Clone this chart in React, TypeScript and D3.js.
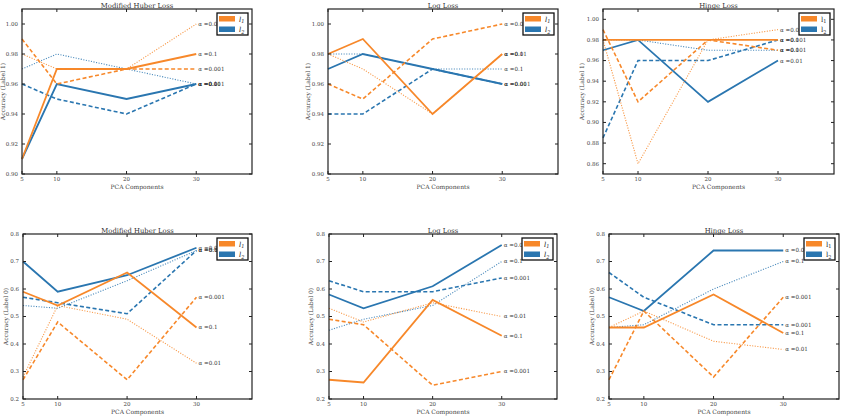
import { useRef, useEffect } from 'react';
import * as d3 from 'd3';

const WIDTH = 865;
const HEIGHT = 420;

// x positions shared by every series
const PCA_COMPONENTS = [5, 10, 20, 30];
const X_TICKS = [5, 10, 20, 30];

// series order used by every values table below
const PENALTIES = ['l1', 'l1', 'l1', 'l2', 'l2', 'l2'];
const ALPHAS = ['0.1', '0.01', '0.001', '0.1', '0.01', '0.001'];

// accuracy on label 1
const HUBER_LABEL1 = [
  [0.91, 0.97, 0.97, 0.98],
  [0.98, 0.97, 0.97, 1.0],
  [0.99, 0.96, 0.97, 0.97],
  [0.97, 0.98, 0.97, 0.96],
  [0.91, 0.96, 0.95, 0.96],
  [0.96, 0.95, 0.94, 0.96],
];
const LOG_LABEL1 = [
  [0.98, 0.99, 0.94, 0.98],
  [0.98, 0.97, 0.94, 0.98],
  [0.96, 0.95, 0.99, 1.0],
  [0.98, 0.98, 0.97, 0.97],
  [0.97, 0.98, 0.97, 0.96],
  [0.94, 0.94, 0.97, 0.96],
];
const HINGE_LABEL1 = [
  [0.98, 0.98, 0.98, 0.98],
  [0.98, 0.86, 0.98, 0.99],
  [0.99, 0.92, 0.98, 0.97],
  [0.98, 0.98, 0.97, 0.97],
  [0.97, 0.98, 0.92, 0.96],
  [0.885, 0.96, 0.96, 0.98],
];

// accuracy on label 0
const HUBER_LABEL0 = [
  [0.59, 0.54, 0.66, 0.46],
  [0.28, 0.54, 0.49, 0.33],
  [0.27, 0.48, 0.27, 0.57],
  [0.54, 0.53, 0.63, 0.74],
  [0.7, 0.59, 0.65, 0.75],
  [0.57, 0.55, 0.51, 0.74],
];
const LOG_LABEL0 = [
  [0.27, 0.26, 0.56, 0.43],
  [0.53, 0.48, 0.55, 0.5],
  [0.49, 0.47, 0.25, 0.3],
  [0.45, 0.49, 0.54, 0.7],
  [0.58, 0.53, 0.61, 0.76],
  [0.63, 0.59, 0.59, 0.64],
];
const HINGE_LABEL0 = [
  [0.46, 0.46, 0.58, 0.44],
  [0.46, 0.52, 0.41, 0.38],
  [0.27, 0.52, 0.28, 0.57],
  [0.46, 0.47, 0.6, 0.7],
  [0.57, 0.52, 0.74, 0.74],
  [0.66, 0.57, 0.47, 0.47],
];

const Y_TICKS_TOP = [0.9, 0.92, 0.94, 0.96, 0.98, 1.0];
const Y_TICKS_HINGE_TOP = [0.86, 0.88, 0.9, 0.92, 0.94, 0.96, 0.98, 1.0];
const Y_TICKS_BOTTOM = [0.2, 0.3, 0.4, 0.5, 0.6, 0.7, 0.8];

const COLORS = { l1: '#f7882a', l2: '#2a76b0' };
const STYLE_OF = {
  'l1|0.1': 'solid', 'l1|0.01': 'dotted', 'l1|0.001': 'dashed',
  'l2|0.1': 'dotted', 'l2|0.01': 'solid', 'l2|0.001': 'dashed',
};
const DASH = { solid: null, dashed: '4,2.4', dotted: '1.1,1.5' };
const STROKE_W = { solid: 1.8, dashed: 1.6, dotted: 1.1 };

const FONT = '"DejaVu Serif", serif';

const PANELS = [
  { title: 'Modified Huber Loss', yLabel: 'Accuracy (Label 1)', values: HUBER_LABEL1, yDomain: [0.9, 1.01], yTicks: Y_TICKS_TOP, fmt: '.2f', left: 22, right: 252, top: 9, bottom: 174, yLabelX: 3, italic: true },
  { title: 'Log Loss', yLabel: 'Accuracy (Label 1)', values: LOG_LABEL1, yDomain: [0.9, 1.01], yTicks: Y_TICKS_TOP, fmt: '.2f', left: 328, right: 558, top: 9, bottom: 174, yLabelX: 308, italic: true },
  { title: 'Hinge Loss', yLabel: 'Accuracy (Label 1)', values: HINGE_LABEL1, yDomain: [0.85, 1.01], yTicks: Y_TICKS_HINGE_TOP, fmt: '.2f', left: 603, right: 834, top: 9, bottom: 174, yLabelX: 582, italic: false },
  { title: 'Modified Huber Loss', yLabel: 'Accuracy (Label 0)', values: HUBER_LABEL0, yDomain: [0.2, 0.8], yTicks: Y_TICKS_BOTTOM, fmt: '.1f', left: 23, right: 252, top: 234, bottom: 399, yLabelX: 6, italic: true },
  { title: 'Log Loss', yLabel: 'Accuracy (Label 0)', values: LOG_LABEL0, yDomain: [0.2, 0.8], yTicks: Y_TICKS_BOTTOM, fmt: '.1f', left: 329, right: 557, top: 234, bottom: 399, yLabelX: 311, italic: true },
  { title: 'Hinge Loss', yLabel: 'Accuracy (Label 0)', values: HINGE_LABEL0, yDomain: [0.2, 0.8], yTicks: Y_TICKS_BOTTOM, fmt: '.1f', left: 609, right: 839, top: 234, bottom: 399, yLabelX: 592, italic: false },
];

function drawPanel(svg, p) {
  const x = d3.scaleLinear().domain([5, 38]).range([p.left, p.right]);
  const y = d3.scaleLinear().domain(p.yDomain).range([p.bottom, p.top]);
  const g = svg.append('g');

  const line = d3.line().x((d, i) => x(PCA_COMPONENTS[i])).y((d) => y(d));

  // blue first so orange sits on top
  const order = [3, 4, 5, 0, 1, 2];
  order.forEach((i) => {
    const pen = PENALTIES[i];
    const style = STYLE_OF[`${pen}|${ALPHAS[i]}`];
    g.append('path')
      .attr('d', line(p.values[i]))
      .attr('fill', 'none')
      .attr('stroke', COLORS[pen])
      .attr('stroke-width', STROKE_W[style])
      .attr('stroke-dasharray', DASH[style])
      .attr('opacity', style === 'dotted' ? 0.85 : 1);
  });

  // alpha annotations at the last point
  p.values.forEach((vals, i) => {
    g.append('text')
      .attr('x', x(30) + 2)
      .attr('y', y(vals[vals.length - 1]))
      .attr('dy', '0.35em')
      .attr('font-family', FONT)
      .attr('font-size', 5.6)
      .attr('fill', '#333')
      .text(`α =${ALPHAS[i]}`);
  });

  // frame
  g.append('rect')
    .attr('x', p.left).attr('y', p.top)
    .attr('width', p.right - p.left).attr('height', p.bottom - p.top)
    .attr('fill', 'none').attr('stroke', '#222').attr('stroke-width', 1.2);

  // inward ticks on all four sides
  X_TICKS.forEach((t) => {
    g.append('line').attr('x1', x(t)).attr('x2', x(t)).attr('y1', p.bottom).attr('y2', p.bottom - 3).attr('stroke', '#222');
    g.append('line').attr('x1', x(t)).attr('x2', x(t)).attr('y1', p.top).attr('y2', p.top + 3).attr('stroke', '#222');
    g.append('text')
      .attr('x', x(t)).attr('y', p.bottom + 7)
      .attr('text-anchor', 'middle')
      .attr('font-family', FONT).attr('font-size', 5.5).attr('fill', '#444')
      .text(t);
  });
  p.yTicks.forEach((t) => {
    g.append('line').attr('x1', p.left).attr('x2', p.left + 3).attr('y1', y(t)).attr('y2', y(t)).attr('stroke', '#222');
    g.append('line').attr('x1', p.right).attr('x2', p.right - 3).attr('y1', y(t)).attr('y2', y(t)).attr('stroke', '#222');
    g.append('text')
      .attr('x', p.left - 4).attr('y', y(t)).attr('dy', '0.35em')
      .attr('text-anchor', 'end')
      .attr('font-family', FONT).attr('font-size', 5.5).attr('fill', '#444')
      .text(d3.format(p.fmt)(t));
  });

  // title and axis labels
  g.append('text')
    .attr('x', (p.left + p.right) / 2).attr('y', p.top - 1.5)
    .attr('text-anchor', 'middle')
    .attr('font-family', FONT).attr('font-size', 6.8).attr('fill', '#333')
    .text(p.title);
  g.append('text')
    .attr('x', (p.left + p.right) / 2).attr('y', p.bottom + 15)
    .attr('text-anchor', 'middle')
    .attr('font-family', FONT).attr('font-size', 6).attr('fill', '#444')
    .text('PCA Components');
  g.append('text')
    .attr('transform', `translate(${p.yLabelX + 2},${(p.top + p.bottom) / 2}) rotate(-90)`)
    .attr('text-anchor', 'middle')
    .attr('font-family', FONT).attr('font-size', 6).attr('fill', '#444')
    .text(p.yLabel);

  // legend
  const lx = p.right - 35;
  const ly = p.top + 4;
  const leg = g.append('g');
  leg.append('rect')
    .attr('x', lx).attr('y', ly).attr('width', 31).attr('height', 22)
    .attr('fill', '#fff').attr('stroke', '#111').attr('stroke-width', 1.3);
  ['l1', 'l2'].forEach((pen, k) => {
    leg.append('rect')
      .attr('x', lx + 2).attr('y', ly + 3 + k * 10.5)
      .attr('width', 16).attr('height', 5.5)
      .attr('fill', COLORS[pen]);
    const t = leg.append('text')
      .attr('x', lx + 22).attr('y', ly + 8.5 + k * 10.5)
      .attr('font-family', FONT).attr('font-size', 7).attr('fill', '#222')
      .attr('font-style', p.italic ? 'italic' : 'normal');
    t.append('tspan').text('l');
    t.append('tspan').attr('font-size', 5).attr('dy', 1.8).text(k + 1);
  });
}

export default function App() {
  const svgRef = useRef(null);

  useEffect(() => {
    const svg = d3.select(svgRef.current);
    svg.selectAll('*').remove();
    PANELS.forEach((p) => drawPanel(svg, p));
  }, []);

  return (
    <div style={{ position: 'absolute', left: 0, top: 0 }}>
      <svg ref={svgRef} width={WIDTH} height={HEIGHT} style={{ display: 'block', background: '#fff' }} />
    </div>
  );
}
